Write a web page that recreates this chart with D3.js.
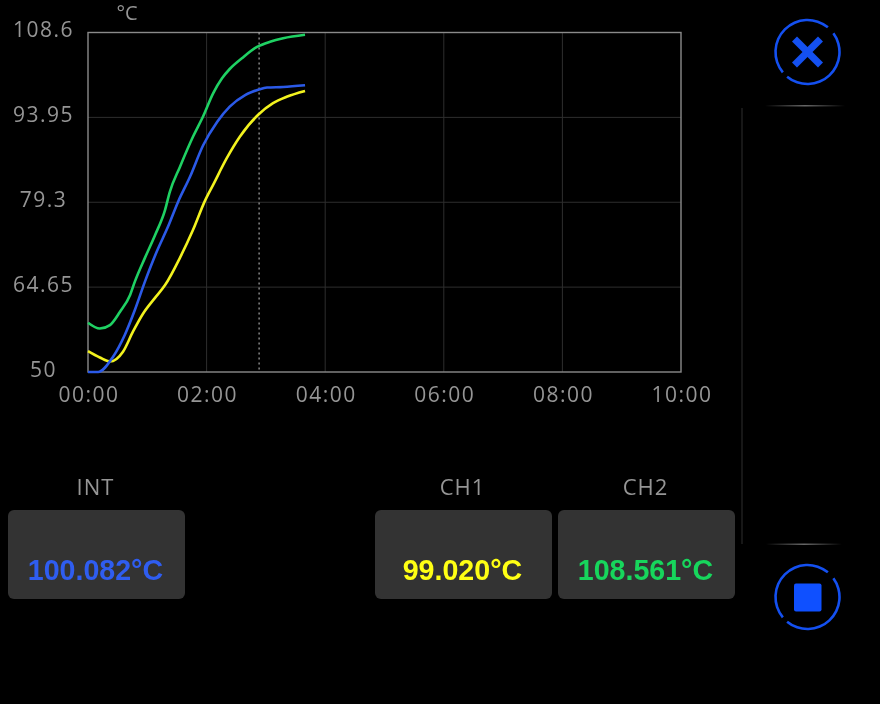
<!DOCTYPE html>
<html><head><meta charset="utf-8">
<script src="https://cdn.jsdelivr.net/npm/d3@7"></script>
<style>html,body{margin:0;padding:0;background:#000;overflow:hidden}svg{display:block;filter:blur(0.5px)}</style>
</head><body><svg id="c" width="880" height="704"></svg>
<script>
const yTicks = [50, 64.65, 79.3, 93.95, 108.6];
const xTicks = [0, 2, 4, 6, 8, 10];
const cursorTime = 2.885;
const unitLabel = "°C";
const ch2Time = [0,0.2,0.37,0.54,0.71,0.79,0.96,1.13,1.3,1.38,1.55,1.77,1.94,2.11,2.26,2.39,2.6,2.85,3.07,3.29,3.66];
const ch2 = [58.5,57.5,58.1,60.4,63.3,65.6,69.7,73.6,78,81.1,85.4,90.6,94.1,98.1,100.7,102.3,104.2,106.1,107,107.6,108.2];
const intTime = [0,0.17,0.42,0.62,0.79,0.96,1.16,1.35,1.52,1.72,1.94,2.18,2.39,2.65,2.87,3.02,3.29,3.66];
const intT = [50,50,52.6,56.4,60.7,65.6,70.8,75.1,79.4,83.7,89.1,93.2,95.8,97.8,98.7,99.1,99.2,99.5];
const ch1Time = [0,0.2,0.37,0.59,0.76,0.93,1.13,1.3,1.55,1.77,1.97,2.11,2.34,2.56,2.87,3.12,3.35,3.66];
const ch1 = [53.6,52.5,51.8,53.5,57,60.1,62.8,65,69.7,74.5,79.5,82.3,86.9,90.6,94.4,96.4,97.5,98.5];
const cardNames = ["INT","CH1","CH2"];
const cardValues = ["100.082°C","99.020°C","108.561°C"];
const cardColors = ["#2f5df0","#ffff14","#17d65c"];
const lineColors = {int:"#2b5ae8",ch1:"#f2f21e",ch2:"#1fd163"};

const svg = d3.select("#c");
const x = d3.scaleLinear().domain([0,10]).range([88,681]);
const y = d3.scaleLinear().domain([50,108.6]).range([372,32.5]);
const FONT = "'Open Sans',sans-serif";
const TICK = "#959595";

const defs = svg.append("defs");
const g1 = defs.append("linearGradient").attr("id","hfade");
g1.append("stop").attr("offset",0).attr("stop-color","#666").attr("stop-opacity",0);
g1.append("stop").attr("offset",.5).attr("stop-color","#666").attr("stop-opacity",1);
g1.append("stop").attr("offset",1).attr("stop-color","#666").attr("stop-opacity",0);

svg.append("g").selectAll("line").data(xTicks.slice(1,-1)).join("line")
  .attr("x1",d=>x(d)).attr("x2",d=>x(d)).attr("y1",y(108.6)).attr("y2",y(50))
  .attr("stroke","#2e2e2e").attr("stroke-width",1);
svg.append("g").selectAll("line").data(yTicks.slice(1,-1)).join("line")
  .attr("y1",d=>y(d)).attr("y2",d=>y(d)).attr("x1",x(0)).attr("x2",x(10))
  .attr("stroke","#2e2e2e").attr("stroke-width",1);
svg.append("rect").attr("x",x(0)).attr("y",y(108.6)).attr("width",x(10)-x(0)).attr("height",y(50)-y(108.6))
  .attr("fill","none").attr("stroke","#8a8a8a").attr("stroke-width",1.4);

svg.append("line").attr("x1",x(cursorTime)).attr("x2",x(cursorTime)).attr("y1",y(108.6)).attr("y2",y(50))
  .attr("stroke","#c8c8c8").attr("stroke-width",1).attr("stroke-dasharray","2 3");

const xAxis = d3.axisBottom(x).tickValues(xTicks).tickSize(0).tickPadding(0)
  .tickFormat(d=>String(d).padStart(2,"0")+":00");
const gx = svg.append("g").attr("transform","translate(0.5,387)").call(xAxis);
gx.select(".domain").remove();
gx.selectAll("text").attr("font-family",FONT).attr("font-size",21).attr("letter-spacing",1.5).attr("fill",TICK);
const yAxis = d3.axisLeft(y).tickValues(yTicks).tickSize(0).tickPadding(0).tickFormat(d=>String(d));
const gy = svg.append("g").attr("transform","translate(43.5,-2.5)").call(yAxis);
gy.select(".domain").remove();
gy.selectAll("text").attr("text-anchor","middle").attr("font-family",FONT).attr("font-size",21).attr("letter-spacing",1.5).attr("fill",TICK);
svg.append("text").attr("x",127).attr("y",20).attr("text-anchor","middle").attr("font-family",FONT)
  .attr("font-size",20).attr("fill",TICK).text(unitLabel);

const line = d3.line().curve(d3.curveMonotoneX);
const drawSeries = (ts,vs,c)=>svg.append("path").attr("fill","none").attr("stroke",c).attr("stroke-width",2.6)
  .attr("stroke-linejoin","round").attr("d",line(ts.map((t,i)=>[x(t),y(vs[i])])));
drawSeries(ch2Time,ch2,lineColors.ch2);
drawSeries(ch1Time,ch1,lineColors.ch1);
drawSeries(intTime,intT,lineColors.int);

const cardX = [8,375,558];
cardNames.forEach((n,i)=>{
  const cx = cardX[i]+88.5;
  svg.append("text").attr("x",cx-1).attr("y",495).attr("text-anchor","middle").attr("font-family",FONT)
    .attr("font-size",22).attr("letter-spacing",1).attr("fill",TICK).text(n);
  svg.append("rect").attr("x",cardX[i]).attr("y",510).attr("width",177).attr("height",89).attr("rx",6).attr("fill","#333");
  svg.append("text").attr("x",cx-1).attr("y",580).attr("text-anchor","middle").attr("font-family","'Liberation Sans',Arial,sans-serif")
    .attr("font-weight",700).attr("font-size",28.6).attr("fill",cardColors[i]).text(cardValues[i]);
});

svg.append("rect").attr("x",765).attr("y",105).attr("width",80).attr("height",1.5).attr("fill","url(#hfade)");
svg.append("rect").attr("x",766).attr("y",543.5).attr("width",76).attr("height",1.5).attr("fill","url(#hfade)");
svg.append("line").attr("x1",742).attr("x2",742).attr("y1",108).attr("y2",544).attr("stroke","#1f1f1f").attr("stroke-width",1.5);

const BLUE = "#1450f0";
const ring = (cx,cy,r)=>{
  const arc = d3.arc().innerRadius(r-1.3).outerRadius(r+1.3);
  svg.append("path").attr("transform",`translate(${cx},${cy})`).attr("fill",BLUE)
    .attr("d",arc({startAngle:-Math.PI*0.72,endAngle:Math.PI*0.22}));
  svg.append("path").attr("transform",`translate(${cx},${cy})`).attr("fill",BLUE)
    .attr("d",arc({startAngle:Math.PI*0.30,endAngle:Math.PI*1.22}));
};
ring(807.5,52,32);
ring(807.5,597,32);
const cg = svg.append("g").attr("stroke",BLUE).attr("stroke-width",7).attr("stroke-linecap","butt");
cg.append("line").attr("x1",794.5).attr("y1",39).attr("x2",820.5).attr("y2",65);
cg.append("line").attr("x1",820.5).attr("y1",39).attr("x2",794.5).attr("y2",65);
svg.append("rect").attr("x",794).attr("y",583.5).attr("width",27.5).attr("height",28).attr("rx",2).attr("fill","#0f50ff");
</script></body></html>
